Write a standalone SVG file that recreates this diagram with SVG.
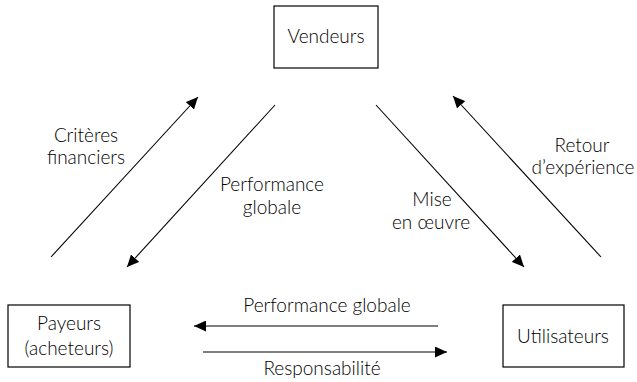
<svg xmlns="http://www.w3.org/2000/svg" width="637" height="382" viewBox="0 0 637 382">
<style>
  .box { fill: #ffffff; stroke: #000000; stroke-width: 1.2; }
  .lbl { font-family: Lato, "Open Sans", sans-serif; font-weight: 300; font-size: 19px; fill: #000000; text-anchor: middle; }
  .edge { fill: none; stroke: #000000; stroke-width: 1.1; }
</style>
<defs>
  <marker id="ah" viewBox="0 0 12 11" refX="12" refY="5.5" markerWidth="12" markerHeight="11" markerUnits="userSpaceOnUse" orient="auto">
    <path d="M0,0 L12,5.5 L0,11 z" fill="#000000"/>
  </marker>
</defs>
<rect width="637" height="382" fill="#ffffff"/>
<g id="connectors">
  <line class="edge" x1="51" y1="257" x2="198" y2="97" marker-end="url(#ah)"/>
  <line class="edge" x1="275" y1="105" x2="127" y2="267" marker-end="url(#ah)"/>
  <line class="edge" x1="376" y1="105" x2="524" y2="267" marker-end="url(#ah)"/>
  <line class="edge" x1="601" y1="257" x2="453" y2="96" marker-end="url(#ah)"/>
  <line class="edge" x1="438" y1="326" x2="194" y2="326" marker-end="url(#ah)"/>
  <line class="edge" x1="203" y1="352" x2="447" y2="352" marker-end="url(#ah)"/>
  <text class="lbl" x="86" y="142">Critères</text>
  <text class="lbl" x="86" y="164">financiers</text>
  <text class="lbl" x="272" y="191">Performance</text>
  <text class="lbl" x="272" y="214">globale</text>
  <text class="lbl" x="432" y="206">Mise</text>
  <text class="lbl" x="431" y="229">en œuvre</text>
  <text class="lbl" x="582" y="152">Retour</text>
  <text class="lbl" x="583" y="174">d’expérience</text>
  <text class="lbl" x="327" y="312">Performance globale</text>
  <text class="lbl" x="322" y="375">Responsabilité</text>
</g>
<g id="vendeurs">
  <rect class="box" x="274" y="6" width="104" height="62"/>
  <text class="lbl" x="326" y="43">Vendeurs</text>
</g>
<g id="payeurs">
  <rect class="box" x="8" y="305" width="122" height="62"/>
  <text class="lbl" x="69" y="330">Payeurs</text>
  <text class="lbl" x="69" y="355">(acheteurs)</text>
</g>
<g id="utilisateurs">
  <rect class="box" x="503" y="305" width="121" height="62"/>
  <text class="lbl" x="563" y="343">Utilisateurs</text>
</g>
</svg>
